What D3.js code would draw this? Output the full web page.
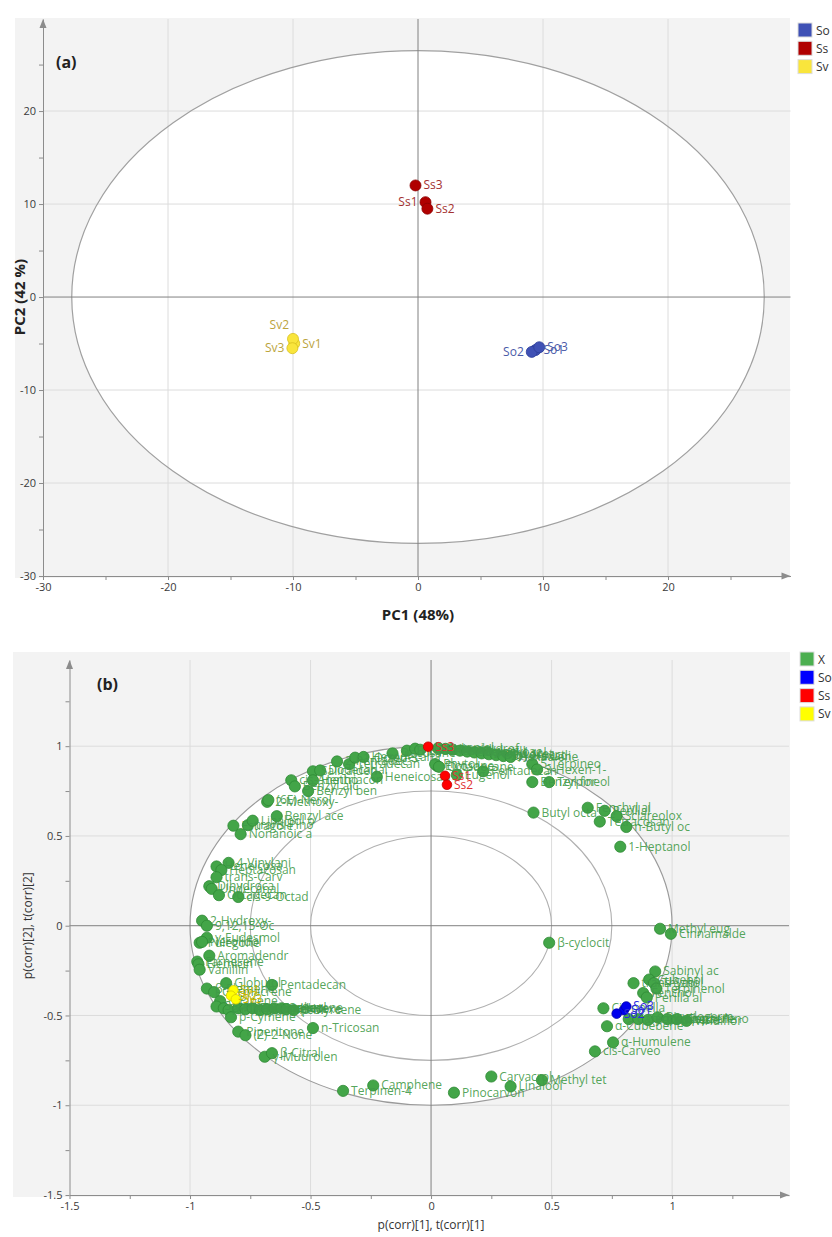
<!DOCTYPE html>
<meta charset="utf-8">
<style>
  body { margin: 0; background: #fff; font-family: "Open Sans", "Noto Sans", sans-serif; }
  .grid line { stroke: #dcdcdc; stroke-width: 1; }
  .axis path, .axis line { stroke: #8c8c8c; }
  .axis text { fill: #3a3a3a; font-size: 11px; font-family: "Open Sans", sans-serif; }
  .title { font-weight: bold; fill: #222; }
  .leg text { font-size: 12px; fill: #333; }
  .lbl { font-size: 12px; }
</style>
<body>
<svg width="832" height="1237"></svg>
<script src="https://d3js.org/d3.v7.min.js"></script>
<script>
  // ---- panel (a): PCA scores ----
  var scoresSo = [["So1", 9.4, -5.7], ["So2", 9.1, -5.9], ["So3", 9.7, -5.4]];
  var scoresSs = [["Ss1", 0.6, 10.2], ["Ss2", 0.75, 9.5], ["Ss3", -0.2, 12.0]];
  var scoresSv = [["Sv1", -9.9, -5.0], ["Sv2", -10.0, -4.5], ["Sv3", -10.05, -5.5]];
  var ticksA = [-30, -20, -10, 0, 10, 20];
  var ellipseA = [27.7, 26.5];

  // ---- panel (b): correlation loadings ----
  var corrSo = [["So1", 0.80, -0.47], ["So2", 0.77, -0.49], ["So3", 0.81, -0.45]];
  var corrSs = [["Ss1", 0.058, 0.835], ["Ss2", 0.066, 0.785], ["Ss3", -0.012, 0.997]];
  var corrSv = [["Sv1", -0.82, -0.36], ["Sv2", -0.83, -0.39], ["Sv3", -0.81, -0.41]];
  var ticksB = [-1.5, -1, -0.5, 0, 0.5, 1];
  var circlesB = [1, 0.75, 0.5];

  var loadingsTop = [
    ["2-Methoxy-", -0.68, 0.69], ["(6E)-Nerol", -0.675, 0.70], ["Benzyl ace", -0.64, 0.61],
    ["Nonanoic a", -0.79, 0.51], ["Estragole", -0.82, 0.557], ["trans-Pino", -0.76, 0.56],
    ["Linalool o", -0.74, 0.585], ["cis-Anetho", -0.58, 0.81], ["Benzyl alc", -0.565, 0.776],
    ["Salicaldeh", -0.49, 0.86], ["Dodecanal", -0.46, 0.865], ["Benzyl ben", -0.51, 0.75],
    ["Hentriacon", -0.49, 0.81], ["2-Pentadec", -0.39, 0.915], ["Tetradecan", -0.34, 0.90],
    ["1-Octen-3-", -0.315, 0.936], ["Hexadecana", -0.28, 0.94], ["Heneicosan", -0.225, 0.83],
    ["Docosane", -0.16, 0.96], ["Tricosane", -0.10, 0.975], ["Heptadecan", -0.066, 0.986],
    ["Nonadecan", -0.045, 0.98], ["Eicosane", 0.025, 0.89], ["Eugenol", 0.107, 0.84],
    ["Phytol", 0.017, 0.90], ["Octadecane", 0.033, 0.885], ["Geraniol", 0.03, 0.99],
    ["Hexahydrof", 0.06, 0.985], ["Nerol", 0.09, 0.98], ["Linalyl ac", 0.12, 0.975],
    ["Citronello", 0.15, 0.97], ["Geranyl ac", 0.18, 0.965], ["Methyl sal", 0.21, 0.96],
    ["Neryl acet", 0.24, 0.955], ["Dihydroact", 0.27, 0.95], ["2,4-Hexadi", 0.30, 0.945],
    ["Hexadiene", 0.33, 0.94], ["Pentadecan", 0.216, 0.86], ["5-Terpineo", 0.42, 0.90],
    ["3-Hexen-1-", 0.44, 0.87], ["Benzyl for", 0.42, 0.80], ["Terpineol", 0.49, 0.80],
    ["Butyl octa", 0.425, 0.63], ["Fenchyl al", 0.65, 0.657], ["Perillal", 0.72, 0.64],
    ["Sclareolox", 0.77, 0.61], ["Tetracosan", 0.70, 0.58], ["n-Butyl oc", 0.81, 0.55],
    ["1-Heptanol", 0.785, 0.44]
  ];
  var loadingsLeft = [
    ["4-Vinylani", -0.84, 0.35], ["Heneicosa", -0.89, 0.33], ["Heptacosan", -0.87, 0.31],
    ["trans-Carv", -0.89, 0.27], ["Dihydroca", -0.92, 0.22], ["Undecanal", -0.91, 0.205],
    ["Octadecan", -0.88, 0.17], ["cis-9-Octad", -0.80, 0.16], ["2-Hydroxy-", -0.95, 0.028],
    ["9,12,15-Oc", -0.93, 0.0], ["γ-Eudesmol", -0.93, -0.067], ["Pulegone", -0.96, -0.095],
    ["Nerolidol", -0.95, -0.09], ["Aromadendr", -0.92, -0.167], ["Farnesene", -0.97, -0.20],
    ["Elemicin", -0.965, -0.215], ["Vanillin", -0.96, -0.245], ["Globulol", -0.85, -0.32],
    ["Pentadecan", -0.66, -0.33], ["β-Elemene", -0.93, -0.35], ["Germacrene", -0.90, -0.37],
    ["α-Pinene", -0.875, -0.42], ["Sabinene", -0.89, -0.45], ["β-Pinene", -0.86, -0.46],
    ["α-Thujene", -0.84, -0.47], ["Limonene", -0.80, -0.46], ["γ-Terpinen", -0.77, -0.465],
    ["Terpinolen", -0.74, -0.46], ["1,8-Cineol", -0.71, -0.47], ["Camphor", -0.68, -0.465],
    ["Borneol", -0.65, -0.46], ["3-Hexene", -0.62, -0.46], ["cis-Hexe", -0.60, -0.465],
    ["β-Myrcene", -0.57, -0.47], ["p-Cymene", -0.83, -0.51], ["n-Tricosan", -0.49, -0.57],
    ["Piperitone", -0.80, -0.59], ["(Z)-2-None", -0.77, -0.61], ["γ-Muurolen", -0.69, -0.73],
    ["β-Citral", -0.66, -0.71]
  ];
  var loadingsBottom = [
    ["Terpinen-4", -0.365, -0.92], ["Camphene", -0.24, -0.89], ["Pinocarvon", 0.095, -0.93],
    ["Carvacrol", 0.25, -0.84], ["Linalool", 0.33, -0.895], ["Methyl tet", 0.46, -0.86]
  ];
  var loadingsRight = [
    ["β-cyclocit", 0.49, -0.095], ["Methyl eug", 0.95, -0.017], ["Cinnamalde", 0.995, -0.045],
    ["Sabinyl ac", 0.93, -0.255], ["trans-Sabi", 0.84, -0.32], ["Cubebol", 0.905, -0.30],
    ["Thymol", 0.925, -0.32], ["Terpinenol", 0.935, -0.35], ["Fenchol", 0.88, -0.375],
    ["Perilla al", 0.895, -0.40], ["Citronella", 0.715, -0.46], ["Caryophyll", 0.82, -0.52],
    ["Germacren", 0.86, -0.52], ["δ-Cadinene", 0.90, -0.525], ["Bicyclogerm", 0.94, -0.51],
    ["α-Copaene", 0.98, -0.52], ["Spathuleno", 1.02, -0.52], ["Viridiflor", 1.06, -0.53],
    ["α-Cubebene", 0.73, -0.56], ["α-Humulene", 0.755, -0.65], ["cis-Carveo", 0.68, -0.70]
  ];

  var svg = d3.select("svg");
  var fmt = function (d) { return String(d); };

  function arrowUp(g, x, y) {
    g.append("path").attr("d", "M" + (x - 3.5) + "," + (y + 9) + "L" + x + "," + y + "L" + (x + 3.5) + "," + (y + 9) + "Z")
      .attr("fill", "#8c8c8c");
  }
  function arrowRight(g, x, y) {
    g.append("path").attr("d", "M" + (x - 9) + "," + (y - 3.5) + "L" + x + "," + y + "L" + (x - 9) + "," + (y + 3.5) + "Z")
      .attr("fill", "#8c8c8c");
  }

  function legend(g, x, y0, items) {
    var lg = g.append("g").attr("class", "leg");
    items.forEach(function (it, i) {
      lg.append("rect").attr("x", x).attr("y", y0 + i * 18.3).attr("width", 14).attr("height", 14)
        .attr("fill", it[1]).attr("stroke", "#ddd");
      lg.append("text").attr("x", x + 18).attr("y", y0 + i * 18.3 + 11.5).text(it[0]);
    });
  }

  // =================== panel (a) ===================
  var gA = svg.append("g");
  var xA = d3.scaleLinear().domain([-30, 29.8]).range([43, 790.5]);
  var yA = d3.scaleLinear().domain([-30, 29.9]).range([576, 19]);

  gA.append("rect").attr("x", 15).attr("y", 18).attr("width", 775).attr("height", 560).attr("fill", "#f3f3f3");
  gA.append("ellipse").attr("cx", xA(0)).attr("cy", yA(0))
    .attr("rx", xA(ellipseA[0]) - xA(0)).attr("ry", yA(0) - yA(ellipseA[1]))
    .attr("fill", "#fff");

  var gridA = gA.append("g").attr("class", "grid");
  gridA.selectAll(".v").data(ticksA.filter(function (d) { return d !== 0 && d !== -30; })).enter().append("line")
    .attr("x1", xA).attr("x2", xA).attr("y1", yA.range()[1]).attr("y2", yA.range()[0]);
  gridA.selectAll(".h").data(ticksA.filter(function (d) { return d !== 0 && d !== -30; })).enter().append("line")
    .attr("y1", yA).attr("y2", yA).attr("x1", xA.range()[0]).attr("x2", xA.range()[1]);

  gA.append("ellipse").attr("cx", xA(0)).attr("cy", yA(0))
    .attr("rx", xA(ellipseA[0]) - xA(0)).attr("ry", yA(0) - yA(ellipseA[1]))
    .attr("fill", "none").attr("stroke", "#a0a0a0").attr("stroke-width", 1.2);

  gA.append("line").attr("x1", xA(0)).attr("x2", xA(0)).attr("y1", yA.range()[1]).attr("y2", yA.range()[0])
    .attr("stroke", "#808080");
  gA.append("line").attr("y1", yA(0)).attr("y2", yA(0)).attr("x1", xA.range()[0]).attr("x2", xA.range()[1])
    .attr("stroke", "#808080");

  gA.append("g").attr("class", "axis").attr("transform", "translate(" + xA(-30) + ",0)")
    .call(d3.axisLeft(yA).tickValues(d3.range(-30, 30, 5)).tickSize(4).tickSizeOuter(0)
      .tickFormat(function (d) { return d % 10 === 0 ? fmt(d) : ""; }));
  gA.append("g").attr("class", "axis").attr("transform", "translate(0," + yA(-30) + ")")
    .call(d3.axisBottom(xA).tickValues(d3.range(-30, 30, 5)).tickSize(4).tickSizeOuter(0)
      .tickFormat(function (d) { return d % 10 === 0 ? fmt(d) : ""; }));
  arrowUp(gA, xA(-30), yA.range()[1]);
  arrowRight(gA, xA.range()[1], yA(-30));

  gA.append("text").attr("class", "title").attr("x", 56).attr("y", 68).attr("font-size", 16).text("(a)");
  gA.append("text").attr("class", "title").attr("x", xA(0)).attr("y", 620).attr("text-anchor", "middle")
    .attr("font-size", 15).text("PC1 (48%)");
  gA.append("text").attr("class", "title").attr("transform", "translate(25," + yA(0) + ") rotate(-90)")
    .attr("text-anchor", "middle").attr("font-size", 15).text("PC2 (42 %)");

  var labelSideA = { "Ss1": "left", "So2": "left", "Sv3": "left", "Sv2": "upleft" };
  function scoresA(data, fill, stroke, txt) {
    var g = gA.append("g");
    g.selectAll("circle").data(data).enter().append("circle")
      .attr("cx", function (d) { return xA(d[1]); }).attr("cy", function (d) { return yA(d[2]); })
      .attr("r", 5.5).attr("fill", fill).attr("stroke", stroke).attr("stroke-width", 0.8);
    g.selectAll("text").data(data).enter().append("text").attr("class", "lbl")
      .attr("fill", txt)
      .attr("x", function (d) {
        var s = labelSideA[d[0]];
        return xA(d[1]) + (s === "left" ? -8 : s === "upleft" ? -4 : 8);
      })
      .attr("y", function (d) { return yA(d[2]) + (labelSideA[d[0]] === "upleft" ? -10 : 4); })
      .attr("text-anchor", function (d) { return labelSideA[d[0]] ? "end" : "start"; })
      .text(function (d) { return d[0]; });
  }
  scoresA(scoresSo, "#3f51b5", "#2c3d99", "#4a5aa8");
  scoresA(scoresSs, "#b00000", "#8a0000", "#a33030");
  scoresA(scoresSv, "#f9e53c", "#d8c020", "#bba43c");

  legend(gA, 798, 23, [["So", "#3f51b5"], ["Ss", "#b00000"], ["Sv", "#f9e53c"]]);

  // =================== panel (b) ===================
  var gB = svg.append("g");
  var xB = d3.scaleLinear().domain([-1.5, 1.485]).range([69.5, 789]);
  var yB = d3.scaleLinear().domain([-1.5, 1.48]).range([1195, 660]);

  gB.append("rect").attr("x", 13).attr("y", 652).attr("width", 777).attr("height", 545).attr("fill", "#f3f3f3");
  gB.append("ellipse").attr("cx", xB(0)).attr("cy", yB(0))
    .attr("rx", xB(1) - xB(0)).attr("ry", yB(0) - yB(1)).attr("fill", "#fff");

  var gridB = gB.append("g").attr("class", "grid");
  var gTicks = [-1, -0.5, 0.5, 1];
  gridB.selectAll(".v").data(gTicks).enter().append("line")
    .attr("x1", xB).attr("x2", xB).attr("y1", yB.range()[1]).attr("y2", yB.range()[0]);
  gridB.selectAll(".h").data(gTicks).enter().append("line")
    .attr("y1", yB).attr("y2", yB).attr("x1", xB.range()[0]).attr("x2", xB.range()[1]);

  gB.selectAll(".ring").data(circlesB).enter().append("ellipse")
    .attr("cx", xB(0)).attr("cy", yB(0))
    .attr("rx", function (r) { return xB(r) - xB(0); })
    .attr("ry", function (r) { return yB(0) - yB(r); })
    .attr("fill", "none").attr("stroke", function (r, i) { return i === 0 ? "#9a9a9a" : "#b0b0b0"; })
    .attr("stroke-width", 1.1);

  gB.append("line").attr("x1", xB(0)).attr("x2", xB(0)).attr("y1", yB.range()[1]).attr("y2", yB.range()[0])
    .attr("stroke", "#808080");
  gB.append("line").attr("y1", yB(0)).attr("y2", yB(0)).attr("x1", xB.range()[0]).attr("x2", xB.range()[1])
    .attr("stroke", "#808080");

  gB.append("g").attr("class", "axis").attr("transform", "translate(" + xB(-1.5) + ",0)")
    .call(d3.axisLeft(yB).tickValues(d3.range(-1.5, 1.5, 0.25)).tickSize(4).tickSizeOuter(0)
      .tickFormat(function (d) { return Math.abs(d * 2 - Math.round(d * 2)) < 1e-9 ? fmt(d) : ""; }));
  gB.append("g").attr("class", "axis").attr("transform", "translate(0," + yB(-1.5) + ")")
    .call(d3.axisBottom(xB).tickValues(d3.range(-1.5, 1.5, 0.25)).tickSize(4).tickSizeOuter(0)
      .tickFormat(function (d) { return Math.abs(d * 2 - Math.round(d * 2)) < 1e-9 ? fmt(d) : ""; }));
  arrowUp(gB, xB(-1.5), yB.range()[1]);
  arrowRight(gB, xB.range()[1], yB(-1.5));

  gB.append("text").attr("class", "title").attr("x", 97).attr("y", 690).attr("font-size", 16).text("(b)");
  gB.append("text").attr("x", xB(0)).attr("y", 1229).attr("text-anchor", "middle")
    .attr("font-size", 12).attr("fill", "#333").text("p(corr)[1], t(corr)[1]");
  gB.append("text").attr("transform", "translate(32," + yB(0) + ") rotate(-90)")
    .attr("text-anchor", "middle").attr("font-size", 12).attr("fill", "#333").text("p(corr)[2], t(corr)[2]");

  var allLoadings = loadingsTop.concat(loadingsLeft, loadingsBottom, loadingsRight);
  var gL = gB.append("g");
  gL.selectAll("circle").data(allLoadings).enter().append("circle")
    .attr("cx", function (d) { return xB(d[1]); }).attr("cy", function (d) { return yB(d[2]); })
    .attr("r", 5.6).attr("fill", "#43a548").attr("stroke", "#2f8a35").attr("stroke-width", 0.8);
  gL.selectAll("text").data(allLoadings).enter().append("text").attr("class", "lbl")
    .attr("fill", "#3f9a47").attr("fill-opacity", 0.9)
    .attr("x", function (d) { return xB(d[1]) + 8; }).attr("y", function (d) { return yB(d[2]) + 4; })
    .text(function (d) { return d[0]; });

  function scoresB(data, fill, stroke, txt) {
    var g = gB.append("g");
    g.selectAll("circle").data(data).enter().append("circle")
      .attr("cx", function (d) { return xB(d[1]); }).attr("cy", function (d) { return yB(d[2]); })
      .attr("r", 4.8).attr("fill", fill).attr("stroke", stroke).attr("stroke-width", 0.8);
    g.selectAll("text").data(data).enter().append("text").attr("class", "lbl")
      .attr("fill", txt)
      .attr("x", function (d) { return xB(d[1]) + 7; }).attr("y", function (d) { return yB(d[2]) + 4; })
      .text(function (d) { return d[0]; });
  }
  scoresB(corrSo, "#0000ee", "#0000aa", "#2a2ae0");
  scoresB(corrSs, "#ff0000", "#c00000", "#e03030");
  scoresB(corrSv, "#ffff00", "#d6c800", "#c8b800");

  legend(gB, 800, 652, [["X", "#4caf50"], ["So", "#0000ff"], ["Ss", "#ff0000"], ["Sv", "#ffff00"]]);
</script>
</body>
